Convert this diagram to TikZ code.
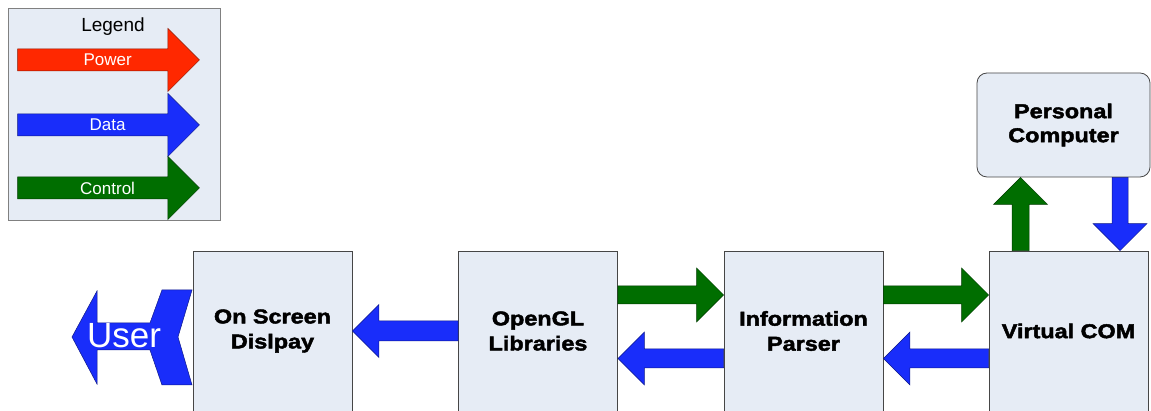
\documentclass[tikz,border=0pt]{standalone}
\usepackage{fontspec}
\setmainfont{Liberation Sans}
\newfontfamily\blockfont[FakeStretch=1.17,FakeBold=2.2]{Liberation Sans}
\usepackage{xcolor}
\usepackage{tikz}
\usetikzlibrary{calc}

\definecolor{boxfill}{RGB}{230,236,245}
\definecolor{boxline}{RGB}{70,70,70}
\definecolor{pwr}{RGB}{255,40,0}
\definecolor{dat}{RGB}{25,45,250}
\definecolor{ctl}{RGB}{0,110,0}

% fat block arrow: style, tail, tip, half shaft, half head
\newcommand{\fatarrow}[5]{%
  \draw[#1] ($(#2)!#4!90:(#3)$) -- ($(#3)!#5!(#2)!#4!-90:(#2)$)
    -- ($(#3)!#5!(#2)!#5!-90:(#2)$) -- (#3)
    -- ($(#3)!#5!(#2)!#5!90:(#2)$) -- ($(#3)!#5!(#2)!#4!90:(#2)$)
    -- ($(#2)!#4!-90:(#3)$) -- cycle;}

\begin{document}
\begin{tikzpicture}[x=1pt,y=1pt,
    block/.style={draw=boxline, fill=boxfill, line width=0.8pt, minimum width=159pt,
      minimum height=160pt, align=center, font=\blockfont\bfseries\fontsize{20}{25}\selectfont},
    pwrarrow/.style={draw=pwr!55!black, fill=pwr, line width=0.5pt},
    dataarrow/.style={draw=dat!55!black, fill=dat, line width=0.5pt},
    ctrlarrow/.style={draw=ctl!55!black, fill=ctl, line width=0.5pt},
    legtext/.style={text=white, font=\fontsize{17}{20}\selectfont}]
  \useasboundingbox (0,0) rectangle (1151,411);
  \fill[white] (0,0) rectangle (1151,411);
  \clip (0,0.5) rectangle (1151,411);

  % legend
  \node[draw=gray, fill=boxfill, line width=0.8pt, minimum width=212pt, minimum height=212pt] (legend) at (114,297) {};
  \node[font=\fontsize{19}{22}\selectfont] (legtitle) at (113,384) {Legend};
  \foreach \kind/\txt/\dy in {pwr/Power/54, data/Data/-11, ctrl/Control/-74} {
    \coordinate (t\kind) at ($(legend.west)+(10,\dy)$);
    \coordinate (h\kind) at ($(legend.east)+(-21,\dy)$);
    \fatarrow{\kind arrow}{t\kind}{h\kind}{11pt}{31.5pt}
    \node[legtext] (l\kind) at ($(legend.west)+(100,\dy)$) {\txt};
  }

  % blocks
  \node[block] (osd) at (272.5,80) {On Screen\\Dislpay};
  \node[block] (ogl) at (538,80) {OpenGL\\Libraries};
  \node[block] (ip) at (803.5,80) {Information\\Parser};
  \node[block] (vcom) at (1068.5,80) {Virtual COM};
  \node[block, rounded corners=10pt, minimum width=173pt, minimum height=104pt,
    font=\blockfont\bfseries\fontsize{20}{24}\selectfont] (pc) at (1063.5,286) {Personal\\Computer};

  % connectors
  \fatarrow{dataarrow}{ogl.west}{osd.east}{10pt}{26.5pt}
  \coordinate (a1) at ($(ogl.east)+(0,36)$);
  \coordinate (a2) at ($(ip.west)+(0,36)$);
  \fatarrow{ctrlarrow}{a1}{a2}{9pt}{27pt}
  \coordinate (b1) at ($(ip.west)+(0,-27.5)$);
  \coordinate (b2) at ($(ogl.east)+(0,-27.5)$);
  \fatarrow{dataarrow}{b1}{b2}{9.5pt}{26.5pt}
  \coordinate (c1) at ($(ip.east)+(0,36)$);
  \coordinate (c2) at ($(vcom.west)+(0,36)$);
  \fatarrow{ctrlarrow}{c1}{c2}{9pt}{27pt}
  \coordinate (d1) at ($(vcom.west)+(0,-27.5)$);
  \coordinate (d2) at ($(ip.east)+(0,-27.5)$);
  \fatarrow{dataarrow}{d1}{d2}{9.5pt}{26.5pt}
  \coordinate (e1) at ($(vcom.north)+(-48,0)$);
  \coordinate (e2) at ($(pc.south)+(-43,0)$);
  \fatarrow{ctrlarrow}{e1}{e2}{8.5pt}{27pt}
  \coordinate (f1) at ($(pc.south)+(56.5,0)$);
  \coordinate (f2) at ($(vcom.north)+(51.5,0)$);
  \fatarrow{dataarrow}{f1}{f2}{8pt}{27pt}

  % user arrow
  \draw[dataarrow] (72,74) -- (97,120) -- (97,88) -- (150,88) -- (162,121) -- (192,121)
    -- (178,74) -- (192,26) -- (162,26) -- (150,61) -- (97,61) -- (97,27) -- cycle;
  \node[text=white, font=\fontsize{35}{40}\selectfont] (user) at (124,75) {User};
\end{tikzpicture}
\end{document}
